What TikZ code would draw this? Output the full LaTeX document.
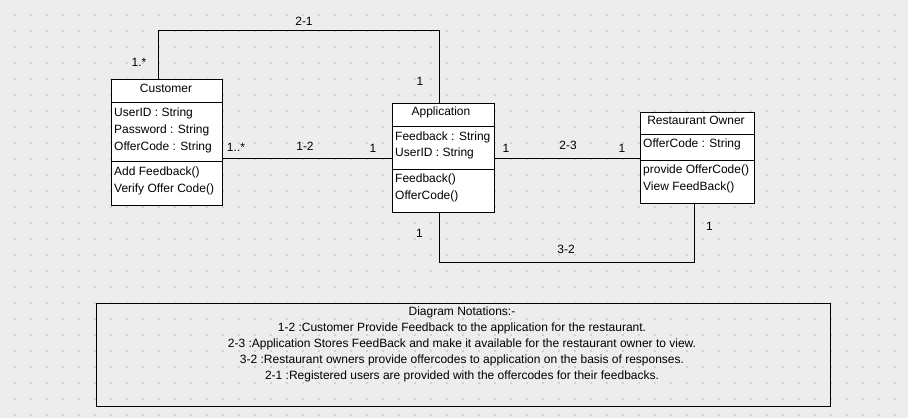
\documentclass[tikz,border=0pt]{standalone}
\usepackage{fontspec}
\setmainfont{Liberation Sans}
\begin{document}
\begin{tikzpicture}[x=1pt,y=-1pt,
  box/.style={draw=black, fill=white, line width=0.9pt, rectangle, inner sep=0, anchor=north west},
  shadow/.style={fill=black!25, draw=none},
  sep/.style={line width=0.9pt},
  lbl/.style={inner sep=0, anchor=west, font=\fontsize{12}{14}\selectfont},
  ttl/.style={inner sep=0, font=\fontsize{12}{14}\selectfont},
  mult/.style={inner sep=0, font=\fontsize{12}{14}\selectfont},
  conn/.style={line width=0.9pt},
  note/.style={inner sep=0, font=\fontsize{12}{14}\selectfont}]
\useasboundingbox (0,0) rectangle (908,418);
\fill[black!7] (0,0) rectangle (908,418);
\foreach \i in {0,...,56}{
  \foreach \j in {0,...,25}{
    \fill[black!18] (14.3+16*\i,14.3+16*\j) rectangle ++(1.6,1.6);
  }
}
% shadows
\fill[shadow] (112,80) rectangle (223,206);
\fill[shadow] (393,104) rectangle (495,213);
\fill[shadow] (641,113) rectangle (755,204);
% Customer
\node[box, minimum width=111pt, minimum height=126pt] (cust) at (110.5,78.5) {};
\draw[sep] (cust.west |- 0,102.5) -- (cust.east |- 0,102.5);
\draw[sep] (cust.west |- 0,161.5) -- (cust.east |- 0,161.5);
\node[ttl] (custT) at (166,88) {Customer};
\node[lbl] (cust1) at (114,113) {UserID : String};
\node[lbl] (cust2) at (114,130) {Password : String};
\node[lbl] (cust3) at (114,147) {OfferCode : String};
\node[lbl] (cust4) at (114,172) {Add Feedback()};
\node[lbl] (cust5) at (114,189) {Verify Offer Code()};
% Application
\node[box, minimum width=102pt, minimum height=109pt] (app) at (391.5,102.5) {};
\draw[sep] (app.west |- 0,126.5) -- (app.east |- 0,126.5);
\draw[sep] (app.west |- 0,169.5) -- (app.east |- 0,169.5);
\node[ttl] (appT) at (441,112) {Application};
\node[lbl] (app1) at (395,137) {Feedback : String};
\node[lbl] (app2) at (395,153.5) {UserID : String};
\node[lbl] (app3) at (395,179.5) {Feedback()};
\node[lbl] (app4) at (395,196) {OfferCode()};
% Restaurant Owner
\node[box, minimum width=114pt, minimum height=91pt] (own) at (639.5,111.5) {};
\draw[sep] (own.west |- 0,134.5) -- (own.east |- 0,134.5);
\draw[sep] (own.west |- 0,160.5) -- (own.east |- 0,160.5);
\node[ttl] (ownT) at (696,120) {Restaurant Owner};
\node[lbl] (own1) at (643,144.5) {OfferCode : String};
\node[lbl] (own2) at (643,170) {provide OfferCode()};
\node[lbl] (own3) at (643,187) {View FeedBack()};
% connectors
\draw[conn] (cust.east |- 0,158.5) -- (app.west |- 0,158.5);
\draw[conn] (app.east |- 0,158.5) -- (own.west |- 0,158.5);
\draw[conn] (cust.north -| 158.5,0) -- (158.5,30.5) -- (439.5,30.5) -- (app.north -| 439.5,0);
\draw[conn] (app.south -| 439.5,0) -- (439.5,262.5) -- (694.5,262.5) -- (own.south -| 694.5,0);
% multiplicities
\node[mult] (m21) at (304,21) {2-1};
\node[mult] (m21a) at (139,62) {1.*};
\node[mult] (m21b) at (420,81.5) {1};
\node[mult] (m12a) at (236,147) {1..*};
\node[mult] (m12) at (305,146) {1-2};
\node[mult] (m12b) at (373,148) {1};
\node[mult] (m23a) at (506,148.5) {1};
\node[mult] (m23) at (568,145.5) {2-3};
\node[mult] (m23b) at (622,148.5) {1};
\node[mult] (m32a) at (419.5,233) {1};
\node[mult] (m32) at (566,249) {3-2};
\node[mult] (m32b) at (709.5,226.5) {1};
% notes
\node[draw=black, line width=0.9pt, minimum width=734pt, minimum height=103pt, inner sep=0, anchor=north west] (notes) at (95.5,302.5) {};
\node[note] (n0) at (462,312.5) {Diagram Notations:-};
\node[note] (n1) at (462,328.5) {1-2 :Customer Provide Feedback to the application for the restaurant.};
\node[note] (n2) at (462,344.5) {2-3 :Application Stores FeedBack and make it available for the restaurant owner to view.};
\node[note] (n3) at (462,360.5) {3-2 :Restaurant owners provide offercodes to application on the basis of responses.};
\node[note] (n4) at (462,376.5) {2-1 :Registered users are provided with the offercodes for their feedbacks.};
\end{tikzpicture}
\end{document}
